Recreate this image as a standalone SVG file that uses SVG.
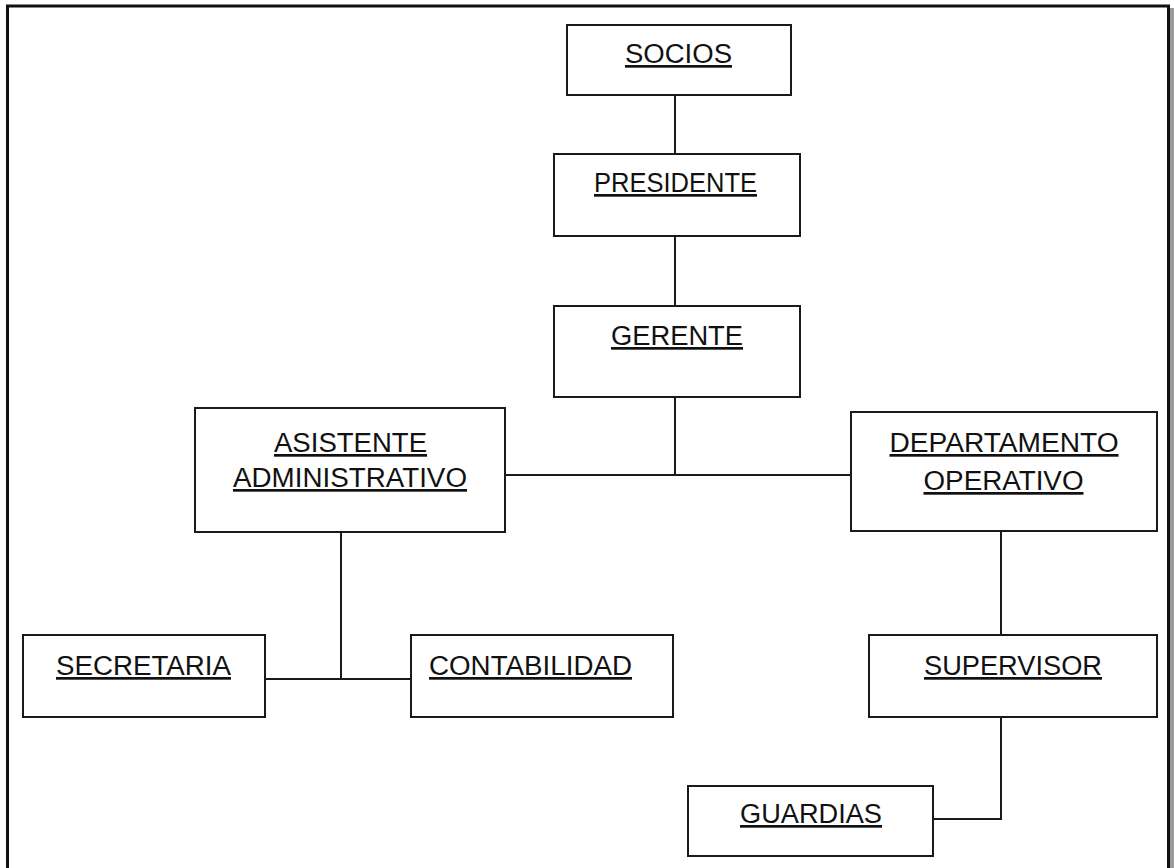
<svg xmlns="http://www.w3.org/2000/svg" width="1174" height="868" viewBox="0 0 1174 868">
<style>
.box{fill:#fff;stroke:#1a1a1a;stroke-width:2}
.lbl{font-family:"Liberation Sans",Arial,sans-serif;font-size:27px;fill:#111;text-anchor:middle;text-decoration:underline}
.conn{fill:none;stroke:#1a1a1a;stroke-width:2}
</style>
<rect x="0" y="0" width="1174" height="868" fill="#fff"/>
<rect x="1169" y="8" width="5" height="860" fill="#9a9a9a"/>
<rect x="7.5" y="6" width="1161" height="900" fill="none" stroke="#111" stroke-width="3"/>
<g id="connectors">
<line class="conn" x1="675" y1="95" x2="675" y2="154"/>
<line class="conn" x1="675" y1="236" x2="675" y2="306"/>
<line class="conn" x1="675" y1="397" x2="675" y2="475"/>
<line class="conn" x1="505" y1="475" x2="851" y2="475"/>
<line class="conn" x1="341" y1="532" x2="341" y2="679"/>
<line class="conn" x1="265" y1="679" x2="411" y2="679"/>
<line class="conn" x1="1001" y1="531" x2="1001" y2="635"/>
<polyline class="conn" points="1001,717 1001,819 933,819"/>
</g>
<g id="socios"><rect class="box" x="567" y="25" width="224" height="70"/><text class="lbl" x="678.5" y="63" textLength="107" lengthAdjust="spacingAndGlyphs">SOCIOS</text></g>
<g id="presidente"><rect class="box" x="554" y="154" width="246" height="82"/><text class="lbl" x="675.5" y="192" textLength="163" lengthAdjust="spacingAndGlyphs">PRESIDENTE</text></g>
<g id="gerente"><rect class="box" x="554" y="306" width="246" height="91"/><text class="lbl" x="677" y="345" textLength="132" lengthAdjust="spacingAndGlyphs">GERENTE</text></g>
<g id="asistente"><rect class="box" x="195" y="408" width="310" height="124"/><text class="lbl" x="350.5" y="452" textLength="153" lengthAdjust="spacingAndGlyphs">ASISTENTE</text><text class="lbl" x="350" y="487" textLength="234" lengthAdjust="spacingAndGlyphs">ADMINISTRATIVO</text></g>
<g id="departamento"><rect class="box" x="851" y="412" width="306" height="119"/><text class="lbl" x="1004" y="452" textLength="229" lengthAdjust="spacingAndGlyphs">DEPARTAMENTO</text><text class="lbl" x="1003.5" y="490" textLength="160" lengthAdjust="spacingAndGlyphs">OPERATIVO</text></g>
<g id="secretaria"><rect class="box" x="23" y="635" width="242" height="82"/><text class="lbl" x="143.5" y="675" textLength="175" lengthAdjust="spacingAndGlyphs">SECRETARIA</text></g>
<g id="contabilidad"><rect class="box" x="411" y="635" width="262" height="82"/><text class="lbl" x="530.5" y="675" textLength="203" lengthAdjust="spacingAndGlyphs">CONTABILIDAD</text></g>
<g id="supervisor"><rect class="box" x="869" y="635" width="288" height="82"/><text class="lbl" x="1013" y="675" textLength="178" lengthAdjust="spacingAndGlyphs">SUPERVISOR</text></g>
<g id="guardias"><rect class="box" x="688" y="786" width="245" height="70"/><text class="lbl" x="811" y="823" textLength="142" lengthAdjust="spacingAndGlyphs">GUARDIAS</text></g>
</svg>
